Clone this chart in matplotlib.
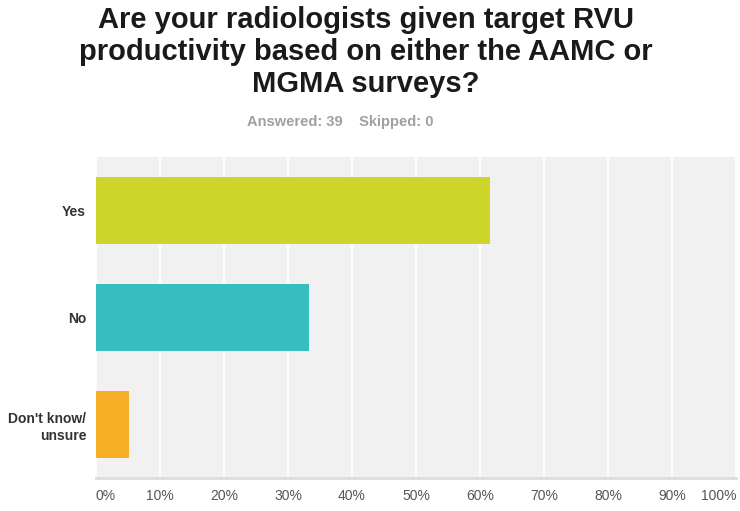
import matplotlib
matplotlib.use("Agg")
import matplotlib.pyplot as plt

categories = ["Yes", "No", "Don't know/\nunsure"]
values = [61.54, 33.33, 5.13]
colors = ["#cdd52a", "#36bdc0", "#f7ae27"]
xticks = [0, 10, 20, 30, 40, 50, 60, 70, 80, 90, 100]
xticklabels = [f"{t}%" for t in xticks]

plt.rcParams['font.family'] = ['Liberation Sans', 'DejaVu Sans']

fig = plt.figure(figsize=(7.4, 5.11), dpi=100)
ax = fig.add_axes([96/740, 1-478/511, 640/740, 321/511])
ax.set_facecolor("#f0f1f0")

ypos = list(range(len(categories)))
ax.barh(ypos, values, height=0.62, color=colors, zorder=3)
ax.set_xlim(0, 100)
ax.set_ylim(2.5, -0.5)
ax.set_xticks(xticks)
ax.set_xticklabels(xticklabels, fontsize=10, color="#555555")
labs = ax.get_xticklabels()
labs[0].set_horizontalalignment("left")
labs[-1].set_horizontalalignment("right")
ax.grid(axis="x", color="white", linewidth=1.2, zorder=1)
ax.set_yticks(ypos)
ax.set_yticklabels(categories, fontsize=10, fontweight="bold", color="#333333", linespacing=1.3)
ax.tick_params(axis="both", length=0)
ax.tick_params(axis="x", pad=8)
ax.tick_params(axis="y", pad=7)
for s in ["top", "right", "left"]:
    ax.spines[s].set_visible(False)
ax.spines["bottom"].set_color("#dcdcdc")
ax.spines["bottom"].set_linewidth(2)

fig.text(366/740, 1-52/511, "Are your radiologists given target RVU\nproductivity based on either the AAMC or\nMGMA surveys?",
         ha="center", va="center", fontsize=21, fontweight="bold", color="#1a1a1a", linespacing=1.17)
fig.text(340/740, 1-122/511, "Answered: 39    Skipped: 0", ha="center", va="center",
         fontsize=10.5, fontweight="bold", color="#a0a0a0")

fig.savefig("out.png", dpi=100)
